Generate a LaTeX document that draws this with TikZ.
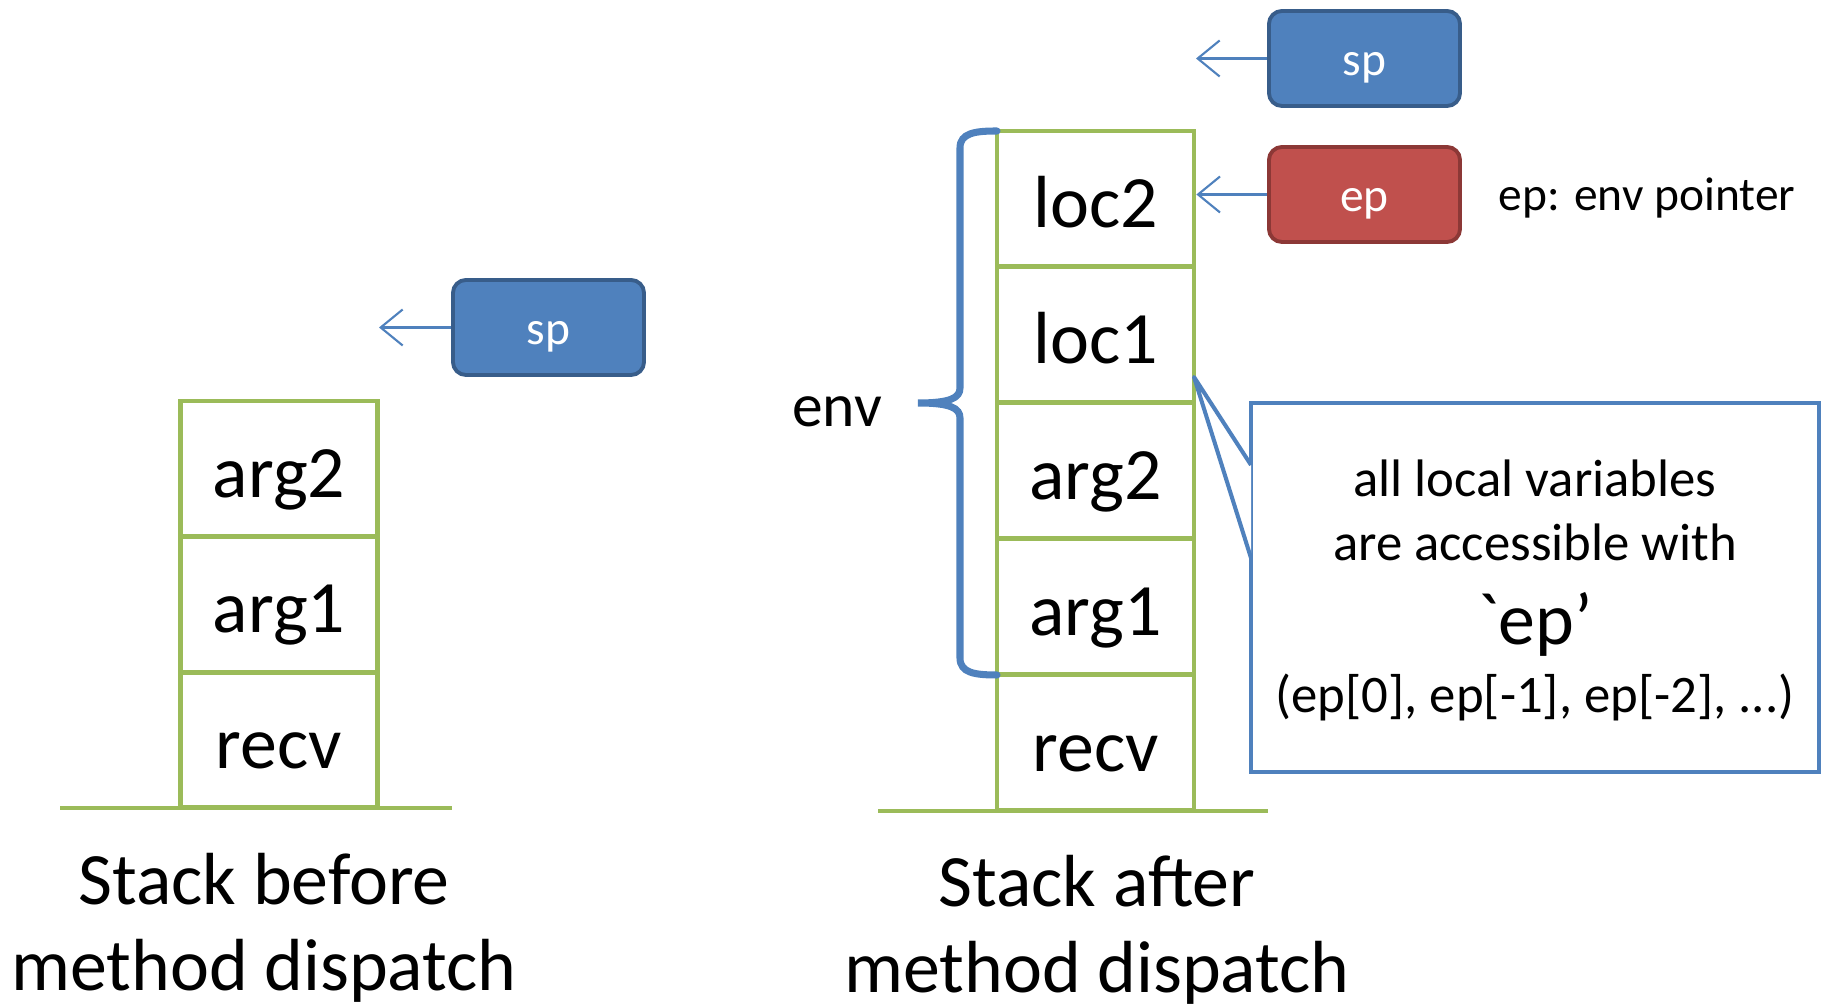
\documentclass[tikz,border=0pt]{standalone}
\usepackage{fontspec}
\setmainfont{Carlito}
\newfontfamily\rawfont{Carlito}[Ligatures=TeXOff]
\usetikzlibrary{arrows.meta}
\definecolor{stackgreen}{HTML}{9BBB59}
\definecolor{bluefill}{HTML}{4F81BD}
\definecolor{blueedge}{HTML}{385D8A}
\definecolor{redfill}{HTML}{C0504D}
\definecolor{rededge}{HTML}{8C3836}
\tikzset{
  cell/.style={draw=stackgreen, line width=1.3pt, minimum width=1.97cm, minimum height=1.355cm, inner sep=0pt, text height=20pt, text depth=4pt, font=\fontsize{21pt}{25pt}\selectfont},
  baseline/.style={draw=stackgreen, line width=1.3pt},
  regbox/.style={rounded corners=0.13cm, line width=1.1pt, minimum width=1.91cm, minimum height=0.95cm, inner sep=0pt, text height=13pt, text depth=3.3pt, text=white, font=\fontsize{13.5pt}{16pt}\selectfont},
  bluebox/.style={regbox, fill=bluefill, draw=blueedge},
  redbox/.style={regbox, fill=redfill, draw=rededge},
  ptr/.style={draw=bluefill, line width=0.6pt, -{Straight Barb[length=2.2mm, width=3.6mm]}},
  caption/.style={anchor=base, inner sep=0pt, font=\fontsize{21pt}{24.5pt}\selectfont},
  cotxt/.style={anchor=base, inner sep=0pt, font=\fontsize{15pt}{18pt}\selectfont},
}
\begin{document}
\begin{tikzpicture}[x=0.01cm, y=-0.01cm]
\useasboundingbox (0,0) rectangle (1823,1007);
% left stack
\node[cell] (la2) at (279,469) {arg2};
\node[cell] (la1) at (279,604.5) {arg1};
\node[cell] (lrv) at (279,740) {recv};
\coordinate (lb1) at (60,808);
\coordinate (lb2) at (452,808);
\draw[baseline] (lb1) -- (lb2);
\node[bluebox] (lsp) at (548.5,327.5) {sp};
\coordinate (lspt) at (379,327.5);
\draw[ptr] (lsp.west) -- (lspt);
\node[caption] (lcap1) at (264,905) {Stack before};
\node[caption] (lcap2) at (264,991) {method dispatch};
% right stack
\node[cell] (rl2) at (1095.5,199) {loc2};
\node[cell] (rl1) at (1095.5,335) {loc1};
\node[cell] (ra2) at (1095.5,471) {arg2};
\node[cell] (ra1) at (1095.5,607) {arg1};
\node[cell] (rrv) at (1095.5,743) {recv};
\coordinate (rb1) at (878,811);
\coordinate (rb2) at (1268,811);
\draw[baseline] (rb1) -- (rb2);
\node[bluebox] (rsp) at (1364.5,58.5) {sp};
\node[redbox] (rep) at (1364.5,194.5) {ep};
\coordinate (rspt) at (1196,58.5);
\draw[ptr] (rsp.west) -- (rspt);
\draw[ptr] (rep.west) -- (rl2.east |- rep.west);
\node[anchor=base, inner sep=0pt, font=\fontsize{13.5pt}{16pt}\selectfont] (eplab) at (1647,211) {ep: env pointer};
\node[caption] (rcap1) at (1097,907) {Stack after};
\node[caption] (rcap2) at (1097,993) {method dispatch};
% brace
\coordinate (bt) at (997,131);
\coordinate (bb) at (997,675);
\coordinate (btip) at (918,403);
\draw[draw=bluefill, line width=2pt, line cap=round] (bt) .. controls (975,131) and (960,133) .. (960,148)
  -- (960,388) .. controls (960,398) and (950,403) .. (btip)
  .. controls (950,403) and (960,408) .. (960,418)
  -- (960,658) .. controls (960,673) and (975,675) .. (bb);
\node[anchor=base, inner sep=0pt, font=\fontsize{17.5pt}{20pt}\selectfont] (envlab) at (837,427) {env};
% callout
\node[draw=bluefill, line width=1.15pt, fill=white, minimum width=5.68cm, minimum height=3.69cm, inner sep=0pt] (co) at (1535,587.5) {};
\coordinate (cop1) at (1251,465);
\coordinate (cotip) at (1194,377);
\coordinate (cop2) at (1251,558);
\fill[white] (cop1) -- (cotip) -- (cop2) -- cycle;
\draw[draw=bluefill, line width=1.15pt, line join=round] (cop1) -- (cotip) -- (cop2);
\node[cotxt] (cot1) at (1535,497) {all local variables};
\node[cotxt] (cot2) at (1535,561) {are accessible with};
\node[cotxt, font=\fontsize{21pt}{25pt}\rawfont] (cot3) at (1535,645) {`ep’};
\node[cotxt] (cot4) at (1535,713) {(ep[0], ep[-1], ep[-2], ...)};
\end{tikzpicture}
\end{document}
